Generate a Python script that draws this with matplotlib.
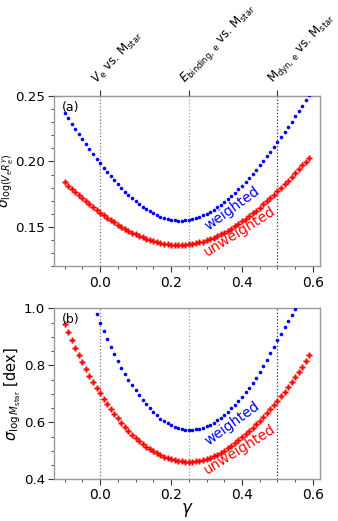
import numpy as np
import matplotlib
matplotlib.use("Agg")
import matplotlib.pyplot as plt
from matplotlib.ticker import MultipleLocator

# gamma grid (step 0.01)
gamma = np.round(np.arange(-0.10, 0.595, 0.01), 2)

# panel (a): sigma of log(Ve Re^gamma)
a_weighted = [0.2370, 0.2329, 0.2288, 0.2247, 0.2208, 0.2169, 0.2131, 0.2093, 0.2057, 0.2021,
              0.1986, 0.1952, 0.1919, 0.1887, 0.1856, 0.1826, 0.1798, 0.1770, 0.1744, 0.1720,
              0.1697, 0.1675, 0.1655, 0.1636, 0.1619, 0.1604, 0.1591, 0.1579, 0.1570, 0.1562,
              0.1556, 0.1552, 0.1550, 0.1550, 0.1552, 0.1556, 0.1562, 0.1569, 0.1578, 0.1589,
              0.1602, 0.1617, 0.1633, 0.1651, 0.1670, 0.1691, 0.1713, 0.1737, 0.1762, 0.1788,
              0.1816, 0.1844, 0.1874, 0.1905, 0.1937, 0.1970, 0.2004, 0.2038, 0.2074, 0.2110,
              0.2147, 0.2185, 0.2223, 0.2263, 0.2302, 0.2342, 0.2383, 0.2425, 0.2466, 0.2509]
a_unweighted = [0.1840, 0.1815, 0.1790, 0.1766, 0.1742, 0.1718, 0.1695, 0.1673, 0.1652, 0.1630,
                0.1610, 0.1590, 0.1571, 0.1552, 0.1535, 0.1518, 0.1501, 0.1486, 0.1471, 0.1457,
                0.1444, 0.1432, 0.1421, 0.1411, 0.1402, 0.1394, 0.1386, 0.1380, 0.1375, 0.1371,
                0.1367, 0.1365, 0.1364, 0.1364, 0.1365, 0.1368, 0.1372, 0.1377, 0.1383, 0.1390,
                0.1399, 0.1408, 0.1419, 0.1431, 0.1444, 0.1458, 0.1473, 0.1489, 0.1506, 0.1524,
                0.1543, 0.1562, 0.1583, 0.1604, 0.1626, 0.1649, 0.1672, 0.1696, 0.1721, 0.1747,
                0.1773, 0.1799, 0.1826, 0.1854, 0.1882, 0.1911, 0.1940, 0.1969, 0.1999, 0.2029]

# panel (b): sigma of log Mstar
gamma_bw = np.round(np.arange(-0.01, 0.555, 0.01), 2)
b_weighted = [0.980, 0.950, 0.920, 0.892, 0.865, 0.840, 0.815, 0.792, 0.771, 0.750,
              0.730, 0.712, 0.695, 0.679, 0.663, 0.649, 0.636, 0.624, 0.613, 0.604,
              0.596, 0.589, 0.583, 0.579, 0.576, 0.574, 0.573, 0.5735, 0.575, 0.578,
              0.581, 0.586, 0.592, 0.599, 0.607, 0.616, 0.626, 0.637, 0.649, 0.662,
              0.676, 0.690, 0.705, 0.722, 0.739, 0.757, 0.777, 0.798, 0.820, 0.842,
              0.865, 0.888, 0.911, 0.933, 0.955, 0.977, 0.999]
b_unweighted = [0.945, 0.916, 0.888, 0.861, 0.835, 0.810, 0.787, 0.764, 0.742, 0.721,
                0.702, 0.683, 0.665, 0.647, 0.630, 0.614, 0.599, 0.584, 0.570, 0.557,
                0.545, 0.534, 0.524, 0.515, 0.506, 0.499, 0.492, 0.486, 0.480, 0.475,
                0.471, 0.468, 0.465, 0.4635, 0.4624, 0.4620, 0.4624, 0.4636, 0.4655, 0.4682,
                0.4718, 0.4760, 0.4811, 0.4870, 0.4936, 0.5010, 0.5092, 0.5182, 0.527, 0.537,
                0.547, 0.558, 0.569, 0.581, 0.593, 0.605, 0.617, 0.631, 0.645, 0.660,
                0.676, 0.692, 0.708, 0.724, 0.741, 0.759, 0.777, 0.795, 0.815, 0.835]

top_positions = [0.0, 0.25, 0.5]
top_labels = [r"$V_{\rm e}$ vs. M$_{\rm star}$",
              r"$E_{\rm binding,\,e}$ vs. M$_{\rm star}$",
              r"M$_{\rm dyn,\,e}$ vs. M$_{\rm star}$"]
vline_colors = ["0.45", "0.65", "0.2"]

fig = plt.figure(figsize=(3.38, 5.21), dpi=100)
axa = fig.add_axes([0.1598, 0.4885, 0.787, 0.3278])
axb = fig.add_axes([0.1598, 0.0800, 0.787, 0.3282])

blue = "#0000ff"
red = "#ff0000"

def style(ax):
    for s in ax.spines.values():
        s.set_color("0.6")
        s.set_linewidth(1.0)
    ax.set_xlim(-0.13, 0.62)
    ax.xaxis.set_major_locator(MultipleLocator(0.2))
    ax.xaxis.set_minor_locator(MultipleLocator(0.05))
    ax.tick_params(axis="both", which="major", direction="out", length=4, width=0.8,
                   labelsize=10, color="0.2", pad=2.5)
    ax.tick_params(axis="y", which="major", labelsize=9.6)
    ax.tick_params(axis="both", which="minor", direction="out", length=2, width=0.6, color="0.2")
    for xv, c in zip(top_positions, vline_colors):
        ax.axvline(xv, color=c, ls=":", lw=0.9, zorder=1)

for ax in (axa, axb):
    style(ax)

# panel (a)
axa.plot(gamma, a_weighted, ls="none", marker="o", ms=2.6, color=blue, mec="none", zorder=3)
axa.plot(gamma, a_unweighted, ls="none", marker="P", ms=3.8, color=red, mec="none", zorder=3)
axa.set_ylim(0.12, 0.25)
axa.yaxis.set_major_locator(MultipleLocator(0.05))
axa.yaxis.set_minor_locator(MultipleLocator(0.01))
axa.set_ylabel(r"$\sigma_{\log(V_{\rm e}R_{\rm e}^{\gamma})}$", fontsize=9.8)
axa.yaxis.set_label_coords(-0.143, 0.5)
axa.text(0.03, 0.97, "(a)", transform=axa.transAxes, fontsize=9, va="top", ha="left")
axa.text(0.372, 0.1645, "weighted", color=blue, fontsize=10, rotation=36,
         ha="center", va="center")
axa.text(0.395, 0.147, "unweighted", color=red, fontsize=10, rotation=32,
         ha="center", va="center")

# top labels
sec = axa.secondary_xaxis("top")
sec.set_xticks(top_positions)
sec.set_xticklabels(top_labels, rotation=47, ha="left", rotation_mode="anchor", fontsize=8.6)
sec.tick_params(direction="out", length=4, width=0.8, color="0.2", pad=2)
sec.spines["top"].set_color("0.6")

# panel (b)
axb.plot(gamma_bw, b_weighted, ls="none", marker="o", ms=2.6, color=blue, mec="none", zorder=3)
axb.plot(gamma, b_unweighted, ls="none", marker="P", ms=3.8, color=red, mec="none", zorder=3)
axb.set_ylim(0.4, 1.0)
axb.yaxis.set_major_locator(MultipleLocator(0.2))
axb.yaxis.set_minor_locator(MultipleLocator(0.05))
axb.set_ylabel(r"$\sigma_{\log M_{\rm star}}$ [dex]", fontsize=10.5)
axb.yaxis.set_label_coords(-0.118, 0.5)
axb.set_xlabel(r"$\gamma$", fontsize=12, labelpad=-1)
axb.text(0.03, 0.97, "(b)", transform=axb.transAxes, fontsize=9, va="top", ha="left")
axb.text(0.372, 0.5975, "weighted", color=blue, fontsize=10, rotation=36,
         ha="center", va="center")
axb.text(0.395, 0.506, "unweighted", color=red, fontsize=10, rotation=32,
         ha="center", va="center")

fig.savefig("out.png", dpi=100)
